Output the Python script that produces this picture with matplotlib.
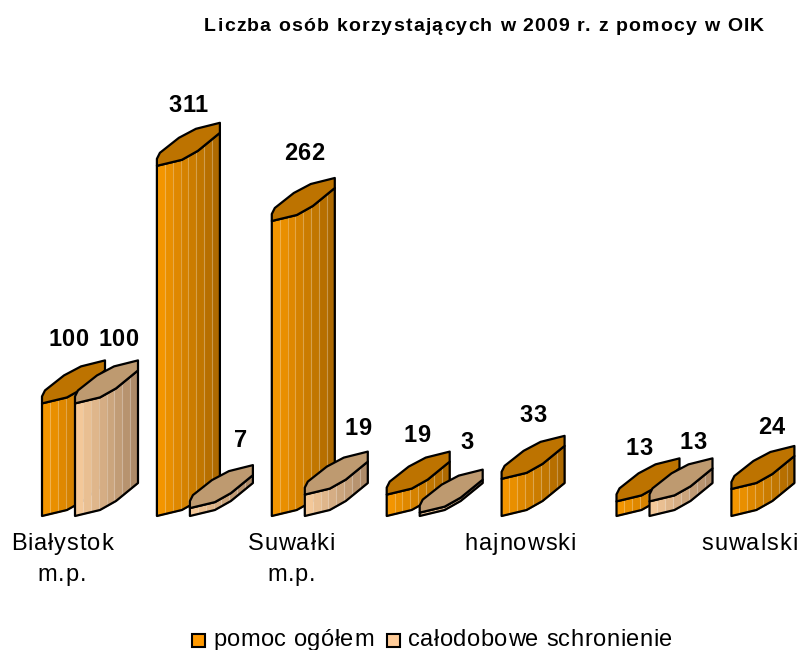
import numpy as np
from matplotlib import pyplot as plt
from matplotlib.colors import to_rgb
from matplotlib.patches import Rectangle
from matplotlib.text import Text

plt.rcParams['font.family'] = ['Liberation Sans', 'DejaVu Sans']

TITLE = "Liczba osób korzystających w 2009 r. z pomocy w OIK"
categories = ["Białystok\nm.p.", "", "Suwałki\nm.p.", "", "hajnowski", "", "suwalski"]
series_names = ["pomoc ogółem", "całodobowe schronienie"]
pomoc_ogolem = [100, 311, 262, 19, 33, 13, 24]
schronienie = [100, 7, 19, 3, None, 13, None]

# pozycje etykiet w pikselach obrazka (x srodka, linia bazowa)
labels_pomoc = [(68, 346), (188, 112), (304, 160), (417, 442), (533, 422), (639, 455), (771, 434)]
labels_schron = [(118, 346), (241, 447), (358, 435), (467, 449), None, (693, 449), None]

W, H = 799, 650
BASE_PX = 516
PX_PER_UNIT = 1.126
GROUP_X = 42
GROUP_STEP = 114.9
SECOND_DX = 33

# ksztalt podstawy slupka, piksele wzgledem lewego przedniego rogu
front_x = np.array([0, 25, 41, 63])
front_y = np.array([0, 6, 15, 33])
back_x = np.array([63, 39, 22, 3, 0])
back_y = np.array([43, 37, 28, 13, 7])

COLORS = [
    {"left": "#F39500", "right": "#AD6900", "top": "#BD7300"},
    {"left": "#F3C899", "right": "#AD8A68", "top": "#BE9A70"},
]
LEGEND_COLORS = ["#FF9900", "#FFCC99"]


class SpacedText(Text):
    """Tekst z rozstrzelonymi literami, jak w oryginale."""

    def __init__(self, x, y, s, spacing=1.5, **kw):
        super().__init__(x, y, s, ha="center", va="baseline", **kw)
        self.spacing = spacing

    def draw(self, renderer):
        s = self.get_text()
        prop = self.get_fontproperties()
        cx, y = self.get_transform().transform(self.get_position())
        y = renderer.height - y
        width = lambda t: renderer.get_text_width_height_descent(t, prop, False)[0]
        x0 = cx - (width(s) + self.spacing * (len(s) - 1)) / 2
        gc = renderer.new_gc()
        gc.set_foreground(self.get_color())
        gc.set_antialiased(True)
        for i, ch in enumerate(s):
            if ch != " ":
                renderer.draw_text(gc, x0 + width(s[:i + 1]) - width(ch) + self.spacing * i, y, ch, prop, 0)
        gc.restore()


def put_text(x, y, s, size, bold=False, spacing=0.5):
    t = SpacedText(x / W, 1 - y / H, s, spacing=spacing, fontsize=size, color="black",
                   fontweight="bold" if bold else "normal", transform=fig.transFigure)
    fig.add_artist(t)
    return t


def blend(c1, c2, t):
    a = np.array(to_rgb(c1))
    b = np.array(to_rgb(c2))
    return tuple(a + (b - a) * t)


def draw_bar(ax, x0, value, col):
    h = value
    n = 8
    edges = np.linspace(0, 63, n + 1)
    for i in range(n):
        xs = np.linspace(edges[i], edges[i + 1], 4)
        low = np.interp(xs, front_x, front_y) / PX_PER_UNIT
        ax.fill_between(x0 + xs, low, low + h, color=blend(col["left"], col["right"], i / (n - 1)),
                        lw=0.3, clip_on=False, zorder=ax.zo)
        ax.zo += 0.01
    # jasne linie miedzy paskami
    for e in edges[1:-1]:
        low = np.interp(e, front_x, front_y) / PX_PER_UNIT
        ax.plot([x0 + e, x0 + e], [low, low + h], color="white", alpha=0.25, lw=0.8,
                clip_on=False, zorder=ax.zo)
    ax.zo += 0.01
    # obrys bryly
    ox = np.concatenate([front_x, front_x[::-1]]) + x0
    oy = np.concatenate([front_y / PX_PER_UNIT, front_y[::-1] / PX_PER_UNIT + h])
    ax.fill(ox, oy, fill=False, ec="black", lw=1.6, joinstyle="round", clip_on=False, zorder=ax.zo)
    ax.zo += 0.01
    # gorna sciana
    tx = np.concatenate([front_x, back_x]) + x0
    ty = np.concatenate([front_y, back_y]) / PX_PER_UNIT + h
    ax.fill(tx, ty, fc=col["top"], ec="black", lw=1.6, joinstyle="round", clip_on=False, zorder=ax.zo)
    ax.zo += 0.01


fig = plt.figure(figsize=(W / 100, H / 100), dpi=100)
ax = fig.add_axes([0, 1 - BASE_PX / H, 1, BASE_PX / H])
ax.set_xlim(0, W)
ax.set_ylim(0, BASE_PX / PX_PER_UNIT)
ax.axis("off")
ax.zo = 2

for i in range(len(categories)):
    x0 = GROUP_X + GROUP_STEP * i
    draw_bar(ax, x0, pomoc_ogolem[i], COLORS[0])
    if schronienie[i] is not None:
        draw_bar(ax, x0 + SECOND_DX, schronienie[i], COLORS[1])

for vals, pos in [(pomoc_ogolem, labels_pomoc), (schronienie, labels_schron)]:
    for v, p in zip(vals, pos):
        if p is not None:
            put_text(p[0], p[1], str(v), 17, bold=True, spacing=0.3)

# podpisy kategorii
for i, cat in enumerate(categories):
    for j, line in enumerate(cat.split("\n")):
        if line:
            put_text(62 + 114.6 * i, 550 + 31 * j, line, 17, spacing=0.9)

put_text(484, 31, TITLE, 14, bold=True, spacing=1.2)

# legenda
swatches = [(192, 634), (387, 634)]
legend_text_x = [293.5, 540]
for (sx, sy), c, name, tx in zip(swatches, LEGEND_COLORS, series_names, legend_text_x):
    fig.add_artist(Rectangle((sx / W, 1 - (sy + 13) / H), 13 / W, 13 / H, fc=c, ec="black", lw=1.5,
                             transform=fig.transFigure))
    put_text(tx, 646, name, 17)

fig.savefig("out.png", dpi=100)
